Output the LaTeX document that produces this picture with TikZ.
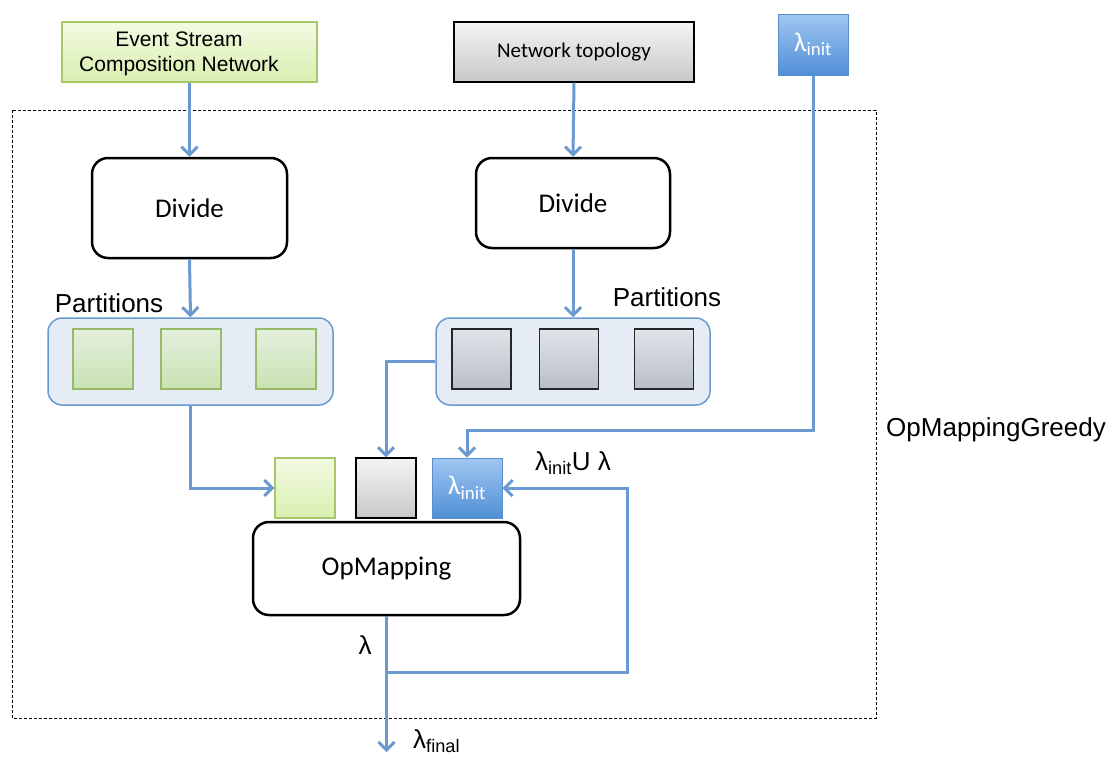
\documentclass[tikz,border=0pt]{standalone}
\usepackage{fontspec}
\setmainfont{Liberation Sans}
\newfontfamily\calfont{Carlito}
\usetikzlibrary{arrows.meta}
\definecolor{conn}{RGB}{106,154,208}
\definecolor{gtop}{RGB}{243,250,226}
\definecolor{gbot}{RGB}{216,239,176}
\definecolor{gbord}{RGB}{166,200,104}
\definecolor{pgtop}{RGB}{228,239,222}
\definecolor{pgbot}{RGB}{200,226,178}
\definecolor{pgbord}{RGB}{152,187,106}
\definecolor{gytop}{RGB}{244,244,244}
\definecolor{gybot}{RGB}{200,200,200}
\definecolor{pgytop}{RGB}{224,228,234}
\definecolor{pgybot}{RGB}{184,190,200}
\definecolor{btop}{RGB}{160,198,242}
\definecolor{bbot}{RGB}{80,143,214}
\definecolor{bbord}{RGB}{90,143,206}
\definecolor{pfill}{RGB}{230,236,245}
\begin{document}
\begin{tikzpicture}[x=1pt,y=-1pt,
  conline/.style={draw=conn,line width=3pt},
  arr/.style={conline,-{Straight Barb[length=8pt,width=16pt,line width=3pt]}},
  greenbox/.style={draw=gbord,line width=1.2pt,top color=gtop,bottom color=gbot,inner sep=0pt},
  graybox/.style={draw=black,line width=1.2pt,top color=gytop,bottom color=gybot,inner sep=0pt},
  bluebox/.style={draw=bbord,line width=1pt,top color=btop,bottom color=bbot,inner sep=0pt,text=white},
  pgreen/.style={draw=pgbord,line width=1.2pt,top color=pgtop,bottom color=pgbot,minimum width=60pt,minimum height=60pt,inner sep=0pt},
  pgray/.style={draw=black!85,line width=1.4pt,top color=pgytop,bottom color=pgybot,minimum width=59pt,minimum height=60pt,inner sep=0pt},
  procbox/.style={draw=black,line width=2.5pt,rounded corners=16pt,fill=white,inner sep=0pt,font=\calfont\fontsize{27}{30}\selectfont},
  partbox/.style={draw=conn,line width=1.5pt,rounded corners=14pt,fill=pfill,inner sep=0pt},
  lbl/.style={font=\fontsize{26}{30}\selectfont,inner sep=0pt}
]
\useasboundingbox (0,0) rectangle (1120,758);
% dashed frame
\draw[line width=1pt,dash pattern=on 3pt off 2pt] (12,110) rectangle (876,718);

% top inputs
\node[greenbox,minimum width=255pt,minimum height=60pt] (esc) at (189.5,52) {};
\node[align=center,font=\fontsize{21}{25}\selectfont,inner sep=0pt] (esct) at (179,54) {Event Stream\\Composition Network};
\node[graybox,minimum width=240pt,minimum height=60pt,font=\calfont\fontsize{21}{25}\selectfont] (net) at (574,52) {Network topology};
\node[bluebox,minimum width=70pt,minimum height=61pt,font=\calfont\fontsize{27}{30}\selectfont] (lam0) at (813,44.5) {λ\textsubscript{init}};

% divide
\node[procbox,minimum width=195pt,minimum height=100pt] (div1) at (189.5,208) {Divide};
\node[procbox,minimum width=194pt,minimum height=90pt] (div2) at (573,203) {Divide};

% partitions
\node[partbox,minimum width=285pt,minimum height=87pt] (p1) at (190.5,361.5) {};
\node[partbox,minimum width=274pt,minimum height=87pt] (p2) at (573,361.5) {};
\node[pgreen] (g1) at (103,359) {};
\node[pgreen] (g2) at (191,359) {};
\node[pgreen] (g3) at (286,359) {};
\node[pgray] (r1) at (481.5,359) {};
\node[pgray] (r2) at (569,359) {};
\node[pgray] (r3) at (664,359) {};
\node[lbl] (pl1) at (109,303) {Partitions};
\node[lbl] (pl2) at (667,297) {Partitions};

% opmapping inputs
\node[greenbox,minimum width=60pt,minimum height=60pt] (gs) at (305,488) {};
\node[graybox,minimum width=60pt,minimum height=60pt] (gy) at (386,488) {};
\node[bluebox,minimum width=70pt,minimum height=60pt,font=\calfont\fontsize{27}{30}\selectfont] (lb) at (467,488) {λ\textsubscript{init}};

\node[procbox,minimum width=267pt,minimum height=93pt] (op) at (386.5,568.5) {OpMapping};

% labels
\node[lbl,anchor=west] (lu) at (535,463) {λ\textsubscript{init}U λ};
\node[lbl] (ll) at (365,645) {λ};
\node[lbl,anchor=west] (lf) at (413,741) {λ\textsubscript{final}};
\node[lbl,anchor=west] (omg) at (886,430) {OpMappingGreedy};

% coordinates
\coordinate (j1) at (813,430);
\coordinate (jn) at (386.5,672);
\coordinate (fb) at (627,672);
\coordinate (fin) at (386.5,752);

% connectors
\draw[arr] (esc.south) -- (div1.north);
\draw[arr] (net.south) -- (div2.north);
\draw[arr] (div1.south) -- (p1.north);
\draw[arr] (div2.south) -- (p2.north);
\draw[arr] (p1.south) |- (gs.west);
\draw[arr] (p2.west) -| (gy.north);
\draw[arr] (lam0.south) -- (j1) -| (lb.north);
\draw[arr] (op.south) -- (fin);
\draw[arr] (jn) -- (fb) |- (lb.east);
\end{tikzpicture}
\end{document}
